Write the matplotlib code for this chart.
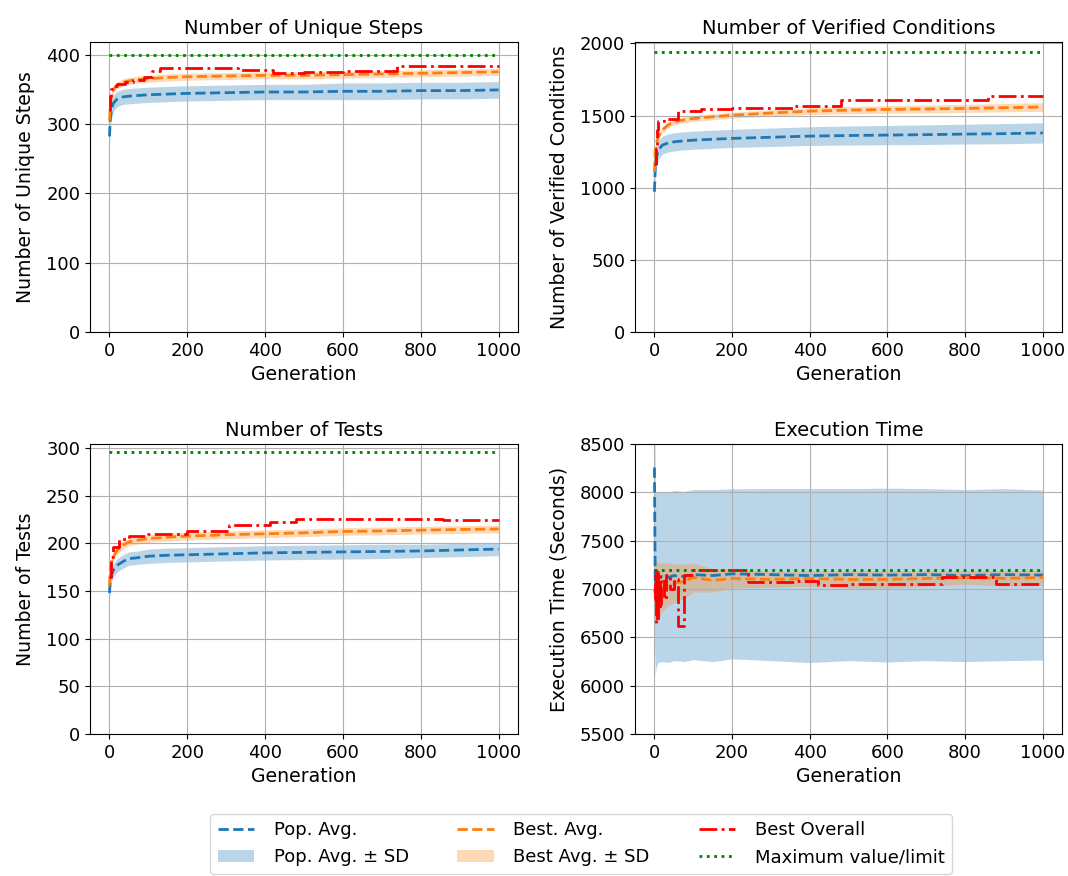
import matplotlib
matplotlib.use('Agg')
import matplotlib.pyplot as plt
import numpy as np

# keypoint generations for the averaged curves
gens = [0, 2, 5, 10, 20, 35, 50, 75, 100, 150, 200, 300, 400, 500, 600, 700, 800, 900, 1000]

# ---- Number of Unique Steps ----
steps_pop = [282, 305, 320, 330, 336, 339, 340, 341, 342, 343, 344, 345, 346, 346, 347, 347, 348, 348, 349]
steps_pop_sd = [8, 12, 12, 12, 11, 11, 11, 11, 11, 11, 11, 11, 11, 11, 12, 12, 12, 12, 12]
steps_best = [305, 325, 340, 350, 356, 360, 362, 364, 365, 367, 368, 369, 370, 370, 371, 372, 373, 374, 375]
steps_best_sd = [8, 7, 6, 5, 5, 5, 5, 5, 5, 5, 5, 5, 5, 5, 5, 5, 5, 5, 5]
steps_ovr_x = [0, 2, 5, 10, 20, 40, 60, 90, 110, 130, 330, 420, 500, 600, 740, 1000]
steps_ovr = [320, 340, 350, 355, 357, 360, 363, 368, 376, 380, 378, 374, 375, 376, 383, 383]
steps_max = 400

# ---- Number of Verified Conditions ----
cond_pop = [972, 1130, 1210, 1261, 1295, 1310, 1318, 1325, 1330, 1336, 1342, 1350, 1358, 1362, 1365, 1368, 1372, 1375, 1380]
cond_pop_sd = [40, 70, 70, 65, 63, 63, 63, 63, 63, 63, 63, 64, 65, 66, 67, 68, 69, 70, 70]
cond_best = [1110, 1250, 1310, 1353, 1400, 1435, 1457, 1470, 1480, 1492, 1503, 1518, 1531, 1538, 1543, 1546, 1550, 1555, 1560]
cond_best_sd = [20, 20, 20, 20, 20, 20, 20, 20, 20, 20, 20, 22, 24, 25, 26, 27, 28, 29, 30]
cond_ovr_x = [0, 3, 6, 10, 25, 60, 120, 200, 300, 360, 480, 860, 1000]
cond_ovr = [1168, 1270, 1400, 1465, 1480, 1532, 1543, 1550, 1555, 1566, 1608, 1634, 1634]
cond_max = 1940

# ---- Number of Tests ----
tests_pop = [148, 160, 167, 172, 177, 181, 184, 185, 186.5, 187.5, 188, 189, 190, 190.5, 191, 191.5, 192, 193, 194]
tests_pop_sd = [5, 7, 7, 7, 7, 7, 7, 7, 7.5, 7.5, 7.5, 7.5, 7.5, 7.5, 7.5, 7.5, 7, 7, 7]
tests_best = [156, 172, 180, 186, 193, 198, 201.5, 203.5, 205, 206.5, 207.5, 209, 210, 211, 212.4, 213, 213.8, 214.5, 215]
tests_best_sd = [4, 4, 4, 4, 4, 4, 4, 4, 4, 4, 4, 4, 4, 4, 4, 4, 4, 4, 4]
tests_ovr_x = [0, 3, 5, 10, 25, 50, 100, 200, 308, 412, 480, 856, 1000]
tests_ovr = [165, 180, 186, 196, 205, 207.5, 209.6, 213, 219.5, 222, 225, 224, 224]
tests_max = 296

# ---- Execution Time ----
time_pop = [8258, 7055, 7100, 7124, 7130, 7120, 7140, 7130, 7150, 7140, 7158, 7150, 7140, 7150, 7145, 7150, 7140, 7150, 7145]
time_pop_sd = [1800, 950, 900, 880, 880, 880, 880, 880, 880, 890, 880, 890, 900, 890, 900, 890, 890, 890, 880]
time_best = [7000, 6950, 7000, 6980, 7020, 7050, 7060, 7080, 7120, 7090, 7110, 7100, 7110, 7100, 7100, 7110, 7120, 7110, 7120]
time_best_sd = [300, 350, 300, 300, 250, 220, 200, 180, 150, 120, 100, 80, 80, 90, 90, 80, 70, 80, 80]
time_ovr_x = [0, 2, 4, 6, 8, 10, 14, 18, 24, 30, 40, 50, 60, 75, 100, 240, 360, 420, 500, 740, 880, 1000]
time_ovr = [6900, 7200, 6650, 7150, 6700, 7180, 6800, 7100, 6900, 7150, 7000, 7100, 6620, 7150, 7200, 7073, 7080, 7040, 7050, 7130, 7055, 7055]
time_max = 7200

panels = [
    ('Number of Unique Steps', 'Number of Unique Steps', steps_pop, steps_pop_sd, steps_best, steps_best_sd,
     steps_ovr_x, steps_ovr, steps_max, (0, 418), [0, 100, 200, 300, 400]),
    ('Number of Verified Conditions', 'Number of Verified Conditions', cond_pop, cond_pop_sd, cond_best, cond_best_sd,
     cond_ovr_x, cond_ovr, cond_max, (0, 2010), [0, 500, 1000, 1500, 2000]),
    ('Number of Tests', 'Number of Tests', tests_pop, tests_pop_sd, tests_best, tests_best_sd,
     tests_ovr_x, tests_ovr, tests_max, (0, 304), [0, 50, 100, 150, 200, 250, 300]),
    ('Execution Time', 'Execution Time (Seconds)', time_pop, time_pop_sd, time_best, time_best_sd,
     time_ovr_x, time_ovr, time_max, (5500, 8500), [5500, 6000, 6500, 7000, 7500, 8000, 8500]),
]

plt.rcParams['font.size'] = 13

fig = plt.figure(figsize=(10.68, 8.76), dpi=100)
positions = [[0.0843, 0.621, 0.4007, 0.331], [0.5946, 0.621, 0.40, 0.331],
             [0.0843, 0.162, 0.4007, 0.331], [0.5946, 0.162, 0.40, 0.331]]

for pos, (title, ylab, pop, pop_sd, best, best_sd, ovr_x, ovr, mx, ylim, yticks) in zip(positions, panels):
    ax = fig.add_axes(pos)
    pop = np.array(pop, dtype=float)
    pop_sd = np.array(pop_sd, dtype=float)
    best = np.array(best, dtype=float)
    best_sd = np.array(best_sd, dtype=float)
    l1, = ax.plot(gens, pop, '--', color='tab:blue', lw=2, label='Pop. Avg.')
    f1 = ax.fill_between(gens, pop - pop_sd, pop + pop_sd, color='tab:blue', alpha=0.3, lw=0, label='Pop. Avg. ± SD')
    l2, = ax.plot(gens, best, '--', color='tab:orange', lw=2, label='Best. Avg.')
    f2 = ax.fill_between(gens, best - best_sd, best + best_sd, color='tab:orange', alpha=0.3, lw=0, label='Best Avg. ± SD')
    l3, = ax.plot(ovr_x, ovr, '-.', color='red', lw=2, drawstyle='steps-post', label='Best Overall')
    l4, = ax.plot([gens[0], gens[-1]], [mx, mx], ':', color='green', lw=2, label='Maximum value/limit')
    ax.set_title(title, fontsize=14)
    ax.set_xlabel('Generation', fontsize=13.6)
    ax.set_ylabel(ylab, fontsize=13.6, labelpad=8)
    ax.set_ylim(ylim)
    ax.set_yticks(yticks)
    ax.set_xticks([0, 200, 400, 600, 800, 1000])
    ax.grid(True)

fig.legend([l1, f1, l2, f2, l3, l4],
           ['Pop. Avg.', 'Pop. Avg. ± SD', 'Best. Avg.', 'Best Avg. ± SD', 'Best Overall', 'Maximum value/limit'],
           loc='upper center', bbox_to_anchor=(0.544, 0.081), ncol=3, fontsize=13,
           columnspacing=2.7, handletextpad=1.1)

fig.savefig('out.png', dpi=100)
